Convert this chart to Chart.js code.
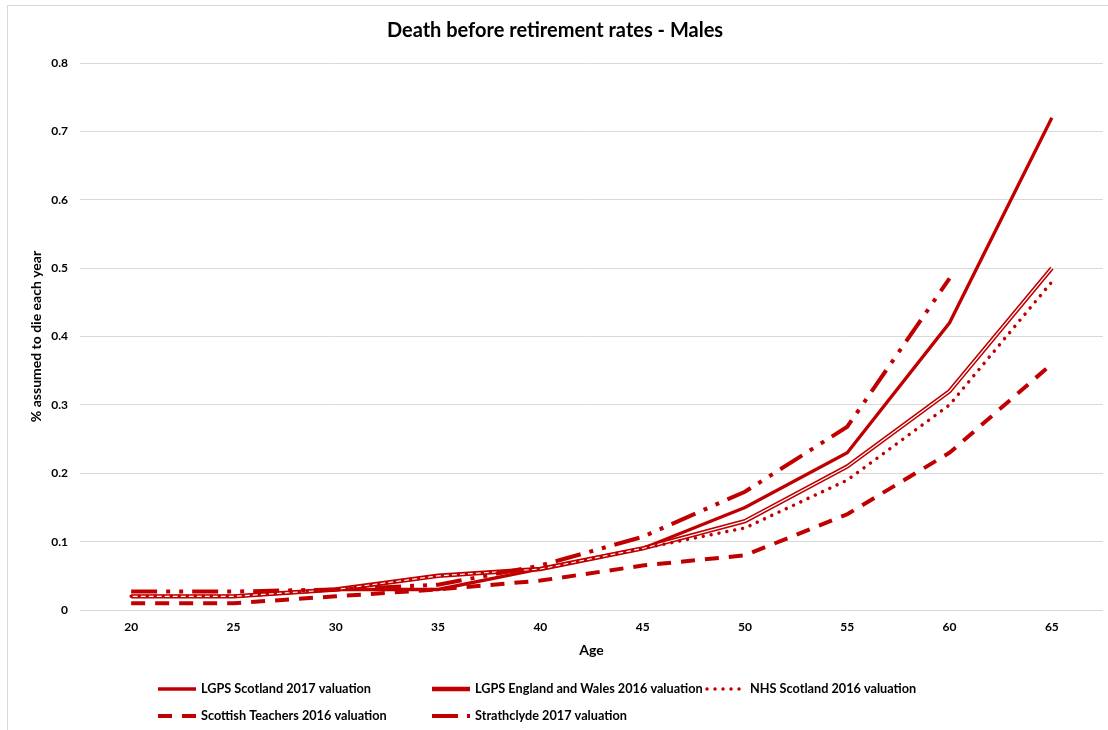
<!DOCTYPE html>
<html>
<head>
<meta charset="utf-8">
<script src="https://cdn.jsdelivr.net/npm/chart.js@4.4.1/dist/chart.umd.min.js"></script>
<style>
  html, body { margin: 0; padding: 0; background: #fff; }
  #wrap { position: relative; width: 1108px; height: 730px; }
  canvas { display: block; }
</style>
</head>
<body>
<div id="wrap"><canvas id="c" width="1108" height="730"></canvas></div>
<script>
// ---- Data ----
const ages = ['20', '25', '30', '35', '40', '45', '50', '55', '60', '65'];
const lgpsScotland2017 = [0.02, 0.02, 0.03, 0.03, 0.06, 0.09, 0.15, 0.23, 0.42, 0.72];
const lgpsEnglandWales2016 = [0.02, 0.02, 0.03, 0.05, 0.06, 0.09, 0.13, 0.21, 0.32, 0.50];
const nhsScotland2016 = [0.02, 0.02, 0.03, 0.05, 0.06, 0.09, 0.12, 0.19, 0.30, 0.48];
const scottishTeachers2016 = [0.01, 0.01, 0.02, 0.03, 0.043, 0.065, 0.08, 0.14, 0.23, 0.36];
const strathclyde2017 = [0.027, 0.027, 0.03, 0.037, 0.065, 0.107, 0.173, 0.268, 0.485, null];
const seriesNames = [
  'LGPS Scotland 2017 valuation',
  'LGPS England and Wales 2016 valuation',
  'NHS Scotland 2016 valuation',
  'Scottish Teachers 2016 valuation',
  'Strathclyde 2017 valuation'
];
const yTickMin = 0, yTickMax = 0.8, yTickStep = 0.1;

const RED = '#C00000';
const FONT = 'Lato, "Open Sans", sans-serif';

// Chart-area border (Excel chart frame)
const framePlugin = {
  id: 'frame',
  beforeDraw(chart) {
    const ctx = chart.ctx;
    ctx.save();
    ctx.fillStyle = '#fff';
    ctx.fillRect(0, 0, chart.width, chart.height);
    ctx.strokeStyle = '#d9d9d9';
    ctx.lineWidth = 1;
    ctx.strokeRect(7.5, 5.5, chart.width + 20, chart.height + 20);
    ctx.restore();
  }
};

// Excel-like grid legend
const gridLegend = {
  id: 'gridLegend',
  afterDraw(chart) {
    const ctx = chart.ctx;
    const slots = [
      {x: 158, y: 689}, {x: 432, y: 689}, {x: 707, y: 689},
      {x: 158, y: 716}, {x: 432, y: 716}
    ];
    const sampleLen = 38;
    let i = 0;
    chart.data.datasets.forEach(ds => {
      if (ds.hideInLegend) return;
      const s = slots[i++];
      if (!s) return;
      ctx.save();
      ctx.strokeStyle = ds.borderColor;
      ctx.lineWidth = ds.borderWidth;
      ctx.lineCap = ds.borderCapStyle || 'butt';
      ctx.setLineDash(ds.borderDash || []);
      ctx.beginPath();
      ctx.moveTo(s.x, s.y);
      ctx.lineTo(s.x + sampleLen, s.y);
      ctx.stroke();
      ctx.setLineDash([]);
      ctx.fillStyle = '#000';
      ctx.font = 'bold 12.7px ' + FONT;
      ctx.textBaseline = 'middle';
      ctx.textAlign = 'left';
      ctx.fillText(ds.label, s.x + sampleLen + 5, s.y);
      ctx.restore();
    });
  }
};

new Chart(document.getElementById('c'), {
  type: 'line',
  data: {
    labels: ages,
    datasets: [
      {
        label: seriesNames[0], data: lgpsScotland2017,
        borderColor: RED, borderWidth: 3.3, order: 5
      },
      {
        label: seriesNames[1], data: lgpsEnglandWales2016,
        borderColor: RED, borderWidth: 4.4, order: 4
      },
      {
        label: seriesNames[1] + ' (inner)', data: lgpsEnglandWales2016, hideInLegend: true,
        borderColor: '#ffffff', borderWidth: 1.2, order: 3
      },
      {
        label: seriesNames[2], data: nhsScotland2016,
        borderColor: RED, borderWidth: 3.5, borderDash: [0.01, 8], borderCapStyle: 'round', order: 2
      },
      {
        label: seriesNames[3], data: scottishTeachers2016,
        borderColor: RED, borderWidth: 4, borderDash: [14, 10], order: 1
      },
      {
        label: seriesNames[4], data: strathclyde2017,
        borderColor: RED, borderWidth: 4, borderDash: [26, 9, 4, 9, 4, 9], order: 0
      }
    ]
  },
  options: {
    responsive: false,
    animation: false,
    spanGaps: false,
    elements: { point: { radius: 0, hoverRadius: 0 }, line: { tension: 0, fill: false } },
    layout: { padding: { left: 7, right: 5, top: 0, bottom: 65 } },
    plugins: {
      legend: { display: false },
      tooltip: { enabled: false },
      title: {
        display: true,
        text: 'Death before retirement rates - Males',
        color: '#000',
        font: { family: FONT, size: 20, weight: 'bold' },
        padding: { top: 19, bottom: 20 }
      }
    },
    scales: {
      x: {
        type: 'category',
        offset: true,
        grid: { display: false, drawTicks: false },
        border: { display: false },
        ticks: { color: '#000', font: { family: FONT, size: 12, weight: 'bold' }, padding: 10, maxRotation: 0 },
        title: {
          display: true, text: 'Age', color: '#000',
          font: { family: FONT, size: 14, weight: 'bold' },
          padding: { top: 0, bottom: 6.6 }
        },
        afterFit(scale) { scale.height = 55; }
      },
      y: {
        min: yTickMin, max: yTickMax,
        grid: { color: '#d9d9d9', lineWidth: 1, drawTicks: false },
        border: { display: false },
        ticks: { stepSize: yTickStep, color: '#000', font: { family: FONT, size: 12, weight: 'bold' }, padding: 12 },
        title: {
          display: true, text: '% assumed to die each year', color: '#000',
          font: { family: FONT, size: 14, weight: 'bold' },
          padding: { top: 21.5, bottom: 0 }
        },
        afterFit(scale) { scale.width = 73; }
      }
    }
  },
  plugins: [framePlugin, gridLegend]
});
</script>
</body>
</html>
